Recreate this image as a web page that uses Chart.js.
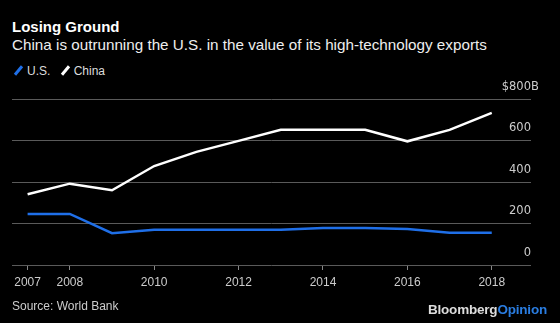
<!DOCTYPE html>
<html>
<head>
  <meta charset="UTF-8" />
  <title>Losing Ground</title>
  <style>
    body {
      margin: 0;
      width: 560px;
      height: 323px;
      background: black;
      color: white;
      font-family: "Liberation Sans", Arial, sans-serif;
      position: relative;
      overflow: hidden;
    }
    .title {
      position: absolute; left: 12px; top: 18px;
      font-size: 15px; font-weight: bold;
    }
    .subtitle {
      position: absolute; left: 12px; top: 37px;
      font-size: 14.5px; color: #eee; white-space: nowrap;
      transform: scaleX(1.05); transform-origin: left;
    }
    .legend {
      position: absolute; left: 12px; top: 64px;
      font-size: 12px; color: #ddd; white-space: nowrap;
    }
    .legend span.sw {
      display: inline-block; width: 3px; height: 11px;
      transform: rotate(40deg); margin: 0 7px 0 5px; vertical-align: -1px;
    }
    .source {
      position: absolute; left: 12px; top: 299px;
      font-size: 12px; color: #ccc;
    }
    .brand {
      position: absolute; right: 13px; top: 302px;
      font-size: 13.5px; font-weight: bold; letter-spacing: -0.2px; color: #ddd;
    }
    .brand b { color: #2a7de1; }
    .wrap { position: absolute; left: 0; top: 0; width: 560px; height: 323px; }
  </style>
  <script src="https://cdn.jsdelivr.net/npm/chart.js"></script>
</head>
<body>

<div class="title">Losing Ground</div>
<div class="subtitle">China is outrunning the U.S. in the value of its high-technology exports</div>
<div class="legend">
  <span class="sw" style="background:#1f6fe8"></span>U.S.
  <span class="sw" style="background:#fff; margin-left:10px"></span>China
</div>
<div class="wrap"><canvas id="chart" width="560" height="323"></canvas></div>
<div class="source">Source: World Bank</div>
<div class="brand">Bloomberg<b>Opinion</b></div>

<script>
// values, billions of US$
const years = [2007, 2008, 2009, 2010, 2011, 2012, 2013, 2014, 2015, 2016, 2017, 2018];
const usValues = [246, 246, 153, 170, 170, 170, 170, 178, 178, 173, 156, 156];
const chinaValues = [341, 392, 360, 477, 545, 598, 652, 652, 652, 596, 651, 733];
const xTicks = [2007, 2008, 2010, 2012, 2014, 2016, 2018];
const yTicks = [0, 200, 400, 600, 800];

const toPoints = vals => years.map((yr, i) => ({ x: yr, y: vals[i] }));

// the unit "B" hangs past the right-aligned top label
const unitSuffix = {
  id: "unitSuffix",
  afterDraw(chart) {
    const ctx = chart.ctx;
    const y = chart.scales.y.getPixelForValue(800) - 12;
    ctx.save();
    ctx.font = "11.5px 'DejaVu Sans'";
    ctx.fillStyle = "#cccccc";
    ctx.textAlign = "left";
    ctx.textBaseline = "middle";
    ctx.fillText("B", chart.chartArea.right, y);
    ctx.restore();
  }
};

new Chart(document.getElementById("chart").getContext("2d"), {
  type: "line",
  data: {
    datasets: [
      { label: "China", data: toPoints(chinaValues), borderColor: "#ffffff", borderWidth: 2.5, pointRadius: 0, tension: 0 },
      { label: "U.S.", data: toPoints(usValues), borderColor: "#1f6fe8", borderWidth: 2.5, pointRadius: 0, tension: 0 }
    ]
  },
  options: {
    responsive: false,
    animation: false,
    layout: { padding: { left: 12, right: 29, top: 99, bottom: 28.6 } },
    plugins: { legend: { display: false }, tooltip: { enabled: false } },
    scales: {
      x: {
        type: "linear",
        min: 2006.63,
        max: 2018.93,
        afterBuildTicks: axis => { axis.ticks = xTicks.map(v => ({ value: v })); },
        ticks: { color: "#cccccc", font: { family: "Liberation Sans", size: 12 }, padding: 5, maxRotation: 0, autoSkip: false, callback: v => String(v) },
        grid: { drawOnChartArea: false, drawTicks: true, tickLength: 5, color: "#888888" },
        border: { display: false }
      },
      y: {
        position: "right",
        min: 0,
        max: 800,
        afterBuildTicks: axis => { axis.ticks = yTicks.map(v => ({ value: v })); },
        ticks: {
          mirror: true,
          padding: 0,
          labelOffset: -12,
          color: "#cccccc",
          font: { family: "DejaVu Sans", size: 11.5 },
          callback: v => v === 800 ? "$800" : String(v)
        },
        grid: { color: "#5a5a5a", drawTicks: false, lineWidth: 1 },
        border: { display: false }
      }
    }
  },
  plugins: [unitSuffix]
});
</script>

</body>
</html>
